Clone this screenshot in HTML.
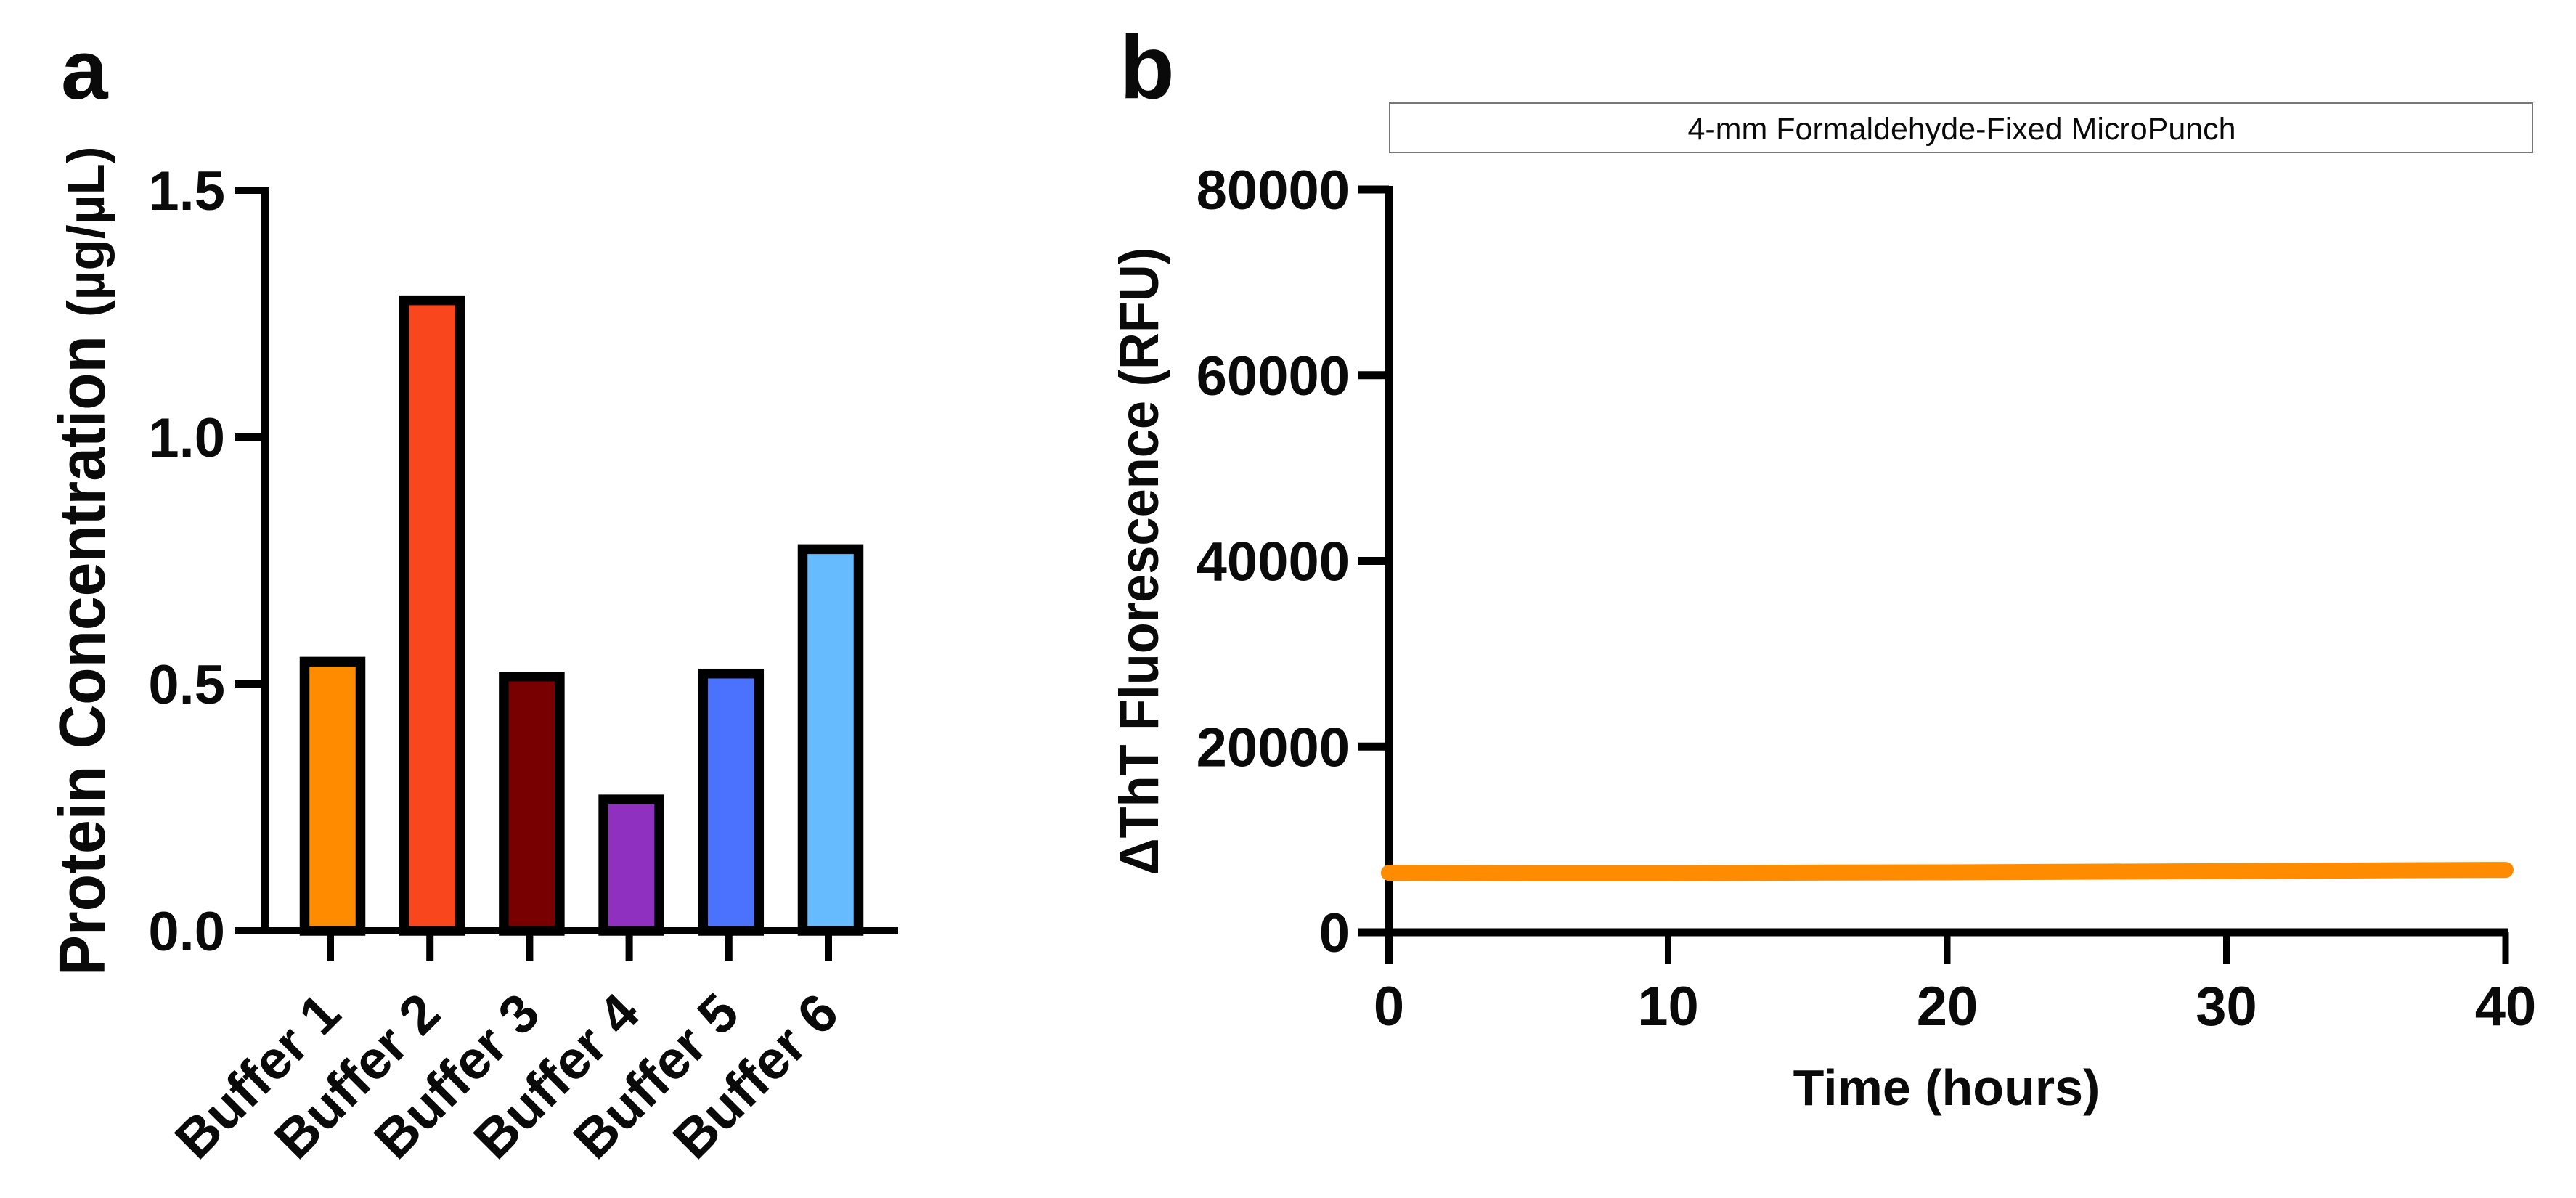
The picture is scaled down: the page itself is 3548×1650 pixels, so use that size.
<!DOCTYPE html>
<html lang="en">
<head>
<meta charset="utf-8">
<title>Protein concentration and ThT fluorescence</title>
<style>
html,body{margin:0;padding:0;background:#fff;width:3548px;height:1650px;overflow:hidden}
svg{display:block}
text{font-family:"Liberation Sans",Arial,sans-serif;fill:#0a0a0a}
.b{font-weight:700}
</style>
</head>
<body>
<svg id="fig" xmlns="http://www.w3.org/2000/svg" width="3548" height="1650" viewBox="0 0 3548 1650">
  <rect x="0" y="0" width="3548" height="1650" fill="#ffffff"/>
  <text class="b" x="84" y="136" font-size="116">a</text>
  <text class="b" x="1542" y="135" font-size="124">b</text>

  <g id="panelA">
    <text class="b" transform="translate(144,1344) rotate(-90) scale(1,1.07)" font-size="84">Protein Concentration</text>
    <text class="b" transform="translate(143,437) rotate(-90)" font-size="71">(µg/µL)</text>
  </g>

  <g id="panelB">
    <rect x="1914" y="142" width="1574" height="68" fill="#ffffff" stroke="#777777" stroke-width="2"/>
    <text x="2702" y="192" font-size="43" text-anchor="middle">4-mm Formaldehyde-Fixed MicroPunch</text>
    <text class="b" transform="translate(1595,1205) rotate(-90) scale(1,1.08)" font-size="70.4">ΔThT Fluorescence (RFU)</text>
    <text class="b" x="2681" y="1522" font-size="70" text-anchor="middle">Time (hours)</text>
  </g>
</svg>
<script>
// Panel a data
const bufferNames = ['Buffer 1', 'Buffer 2', 'Buffer 3', 'Buffer 4', 'Buffer 5', 'Buffer 6'];
const proteinConcentration = [0.545, 1.277, 0.515, 0.266, 0.521, 0.773];
const barColors = ['#ff8c00', '#f9461c', '#780000', '#9030c0', '#4a72ff', '#66bbff'];
const yTickValuesA = [0, 0.5, 1.0, 1.5];
const yTickLabelsA = ['0.0', '0.5', '1.0', '1.5'];

// Panel b data
const timeHours = [0, 5, 10, 15, 20, 25, 30, 35, 40];
const thtFluorescence = [6400, 6350, 6350, 6420, 6450, 6520, 6580, 6660, 6720];
const yTickValuesB = [0, 20000, 40000, 60000, 80000];
const xTickValuesB = [0, 10, 20, 30, 40];

const NS = 'http://www.w3.org/2000/svg';
function mk(parent, tag, attrs, txt) {
  const el = document.createElementNS(NS, tag);
  for (const k in attrs) el.setAttribute(k, attrs[k]);
  if (txt !== undefined) el.textContent = txt;
  parent.appendChild(el);
  return el;
}

// ---- Panel a ----
const gA = document.getElementById('panelA');
const yA = v => 1282 - (v / 1.5) * 1020;
const xA = i => 455 + i * 137.2;
const barW = 77, barStroke = 13.5, barOffset = 3;

proteinConcentration.forEach((v, i) => {
  const bar = mk(gA, 'rect', {
    x: xA(i) + barOffset - barW / 2, y: yA(v), width: barW, height: yA(0) - yA(v),
    fill: barColors[i], stroke: '#000', 'stroke-width': barStroke
  });
  
  
});

const axisYA = mk(gA, 'line', { x1: 365, y1: 257, x2: 365, y2: 1287, stroke: '#000', 'stroke-width': 10 });


const axisXA = mk(gA, 'line', { x1: 323, y1: yA(0), x2: 1237, y2: yA(0), stroke: '#000', 'stroke-width': 10 });



yTickValuesA.forEach((v, i) => {
  const t = mk(gA, 'line', { x1: 323, y1: yA(v), x2: 365, y2: yA(v), stroke: '#000', 'stroke-width': 10 });
  
  
  const l = mk(gA, 'text', { x: 310, y: yA(v) + 27, 'font-size': 76, 'text-anchor': 'end', class: 'b' }, yTickLabelsA[i]);
  
  
});

bufferNames.forEach((name, i) => {
  const t = mk(gA, 'line', { x1: xA(i), y1: yA(0), x2: xA(i), y2: 1324, stroke: '#000', 'stroke-width': 10 });
  
  
  const ax = xA(i) + 18, ay = 1400;
  const l = mk(gA, 'text', { transform: 'translate(' + ax + ',' + ay + ') rotate(-45)', 'font-size': 75, 'text-anchor': 'end', class: 'b' }, name);
  
  
});

// ---- Panel b ----
const gB = document.getElementById('panelB');
const xB = h => 1913 + (h / 40) * 1538;
const yB = v => 1284 - (v / 80000) * 1023;

const axisYB = mk(gB, 'line', { x1: xB(0), y1: yB(80000) - 5, x2: xB(0), y2: 1328, stroke: '#000', 'stroke-width': 10 });


const axisXB = mk(gB, 'line', { x1: 1871, y1: yB(0), x2: 3455, y2: yB(0), stroke: '#000', 'stroke-width': 11 });



yTickValuesB.forEach(v => {
  const t = mk(gB, 'line', { x1: 1871, y1: yB(v), x2: xB(0), y2: yB(v), stroke: '#000', 'stroke-width': 11 });
  
  
  const l = mk(gB, 'text', { x: 1859, y: yB(v) + 27, 'font-size': 76, 'text-anchor': 'end', class: 'b' }, String(v));
  
  
});

xTickValuesB.forEach(h => {
  const t = mk(gB, 'line', { x1: xB(h), y1: yB(0), x2: xB(h), y2: 1328, stroke: '#000', 'stroke-width': 9 });
  
  
  const l = mk(gB, 'text', { x: xB(h), y: 1412, 'font-size': 76, 'text-anchor': 'middle', class: 'b' }, String(h));
  
  
});

const pts = timeHours.map((h, i) => xB(h) + ',' + yB(thtFluorescence[i])).join(' ');
const series = mk(gB, 'polyline', { points: pts, fill: 'none', stroke: '#ff8c00', 'stroke-width': 22, 'stroke-linecap': 'round', 'stroke-linejoin': 'round' });


</script>
</body>
</html>
